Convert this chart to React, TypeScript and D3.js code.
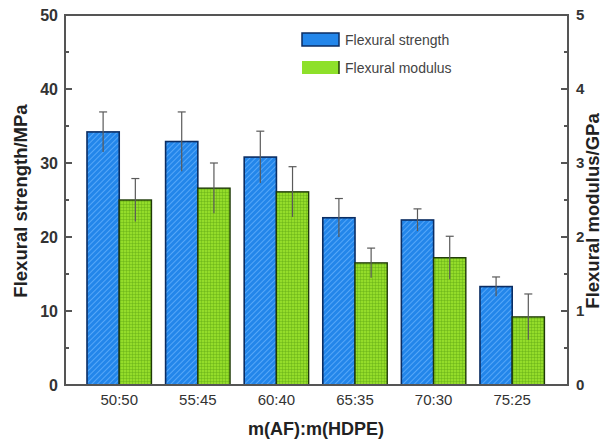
import * as d3 from "d3";

const categories = ["50:50", "55:45", "60:40", "65:35", "70:30", "75:25"];
const strength = [34.2, 32.9, 30.8, 22.6, 22.3, 13.3];
const strengthErr = [2.7, 4.0, 3.5, 2.6, 1.5, 1.3];
const modulus = [2.5, 2.66, 2.61, 1.65, 1.72, 0.92];
const modulusErr = [0.29, 0.34, 0.34, 0.2, 0.29, 0.31];
const leftTicks = [0, 10, 20, 30, 40, 50];
const rightTicks = [0, 1, 2, 3, 4, 5];

export default function App() {
  const width = 602;
  const height = 442;
  const left = 65;
  const right = 568;
  const top = 15;
  const bottom = 385;

  const x = d3.scaleLinear().domain([0.31, 6.71]).range([left, right]);
  const yL = d3.scaleLinear().domain([0, 50]).range([bottom, top]);
  const yR = d3.scaleLinear().domain([0, 5]).range([bottom, top]);
  const barW = x(0.41) - x(0);
  const axisColor = "#555";
  const font = "Liberation Sans, Arial, sans-serif";

  return (
    <svg
      width={width}
      height={height}
      viewBox={`0 0 ${width} ${height}`}
      style={{ position: "absolute", left: 0, top: 0, background: "#fff" }}
      fontFamily={font}
    >
      <defs>
        <pattern id="hatch" width="4" height="4" patternUnits="userSpaceOnUse" patternTransform="rotate(45)">
          <rect width="4" height="4" fill="#2386ea" />
          <line x1="0" y1="0" x2="0" y2="4" stroke="#6cb6ff" strokeWidth="1.4" />
        </pattern>
        <pattern id="dots" width="3" height="3" patternUnits="userSpaceOnUse">
          <rect width="3" height="3" fill="#94dc2a" />
          <path d="M0 0 H3 M0 0 V3" stroke="#5ea814" strokeWidth="0.8" />
        </pattern>
      </defs>

      {categories.map((c, i) => {
        const cx = x(i + 1);
        const sTop = yL(strength[i]);
        const mTop = yR(modulus[i]);
        return (
          <g key={c}>
            <rect x={cx - barW} y={sTop} width={barW} height={bottom - sTop} fill="url(#hatch)" stroke="#0b2d63" strokeWidth="1.6" />
            <rect x={cx} y={mTop} width={barW} height={bottom - mTop} fill="url(#dots)" stroke="#1f3a08" strokeWidth="1.4" />
            <line x1={cx - barW / 2} x2={cx - barW / 2} y1={yL(strength[i] - strengthErr[i])} y2={yL(strength[i] + strengthErr[i])} stroke="#5a5a5a" strokeWidth="1.2" />
            <line x1={cx - barW / 2 - 4} x2={cx - barW / 2 + 4} y1={yL(strength[i] + strengthErr[i])} y2={yL(strength[i] + strengthErr[i])} stroke="#5a5a5a" strokeWidth="1.2" />
            <line x1={cx + barW / 2} x2={cx + barW / 2} y1={yR(modulus[i] - modulusErr[i])} y2={yR(modulus[i] + modulusErr[i])} stroke="#5a5a5a" strokeWidth="1.2" />
            <line x1={cx + barW / 2 - 4} x2={cx + barW / 2 + 4} y1={yR(modulus[i] + modulusErr[i])} y2={yR(modulus[i] + modulusErr[i])} stroke="#5a5a5a" strokeWidth="1.2" />
            <text x={cx} y={bottom + 20} textAnchor="middle" fontSize="15" fill="#333">{c}</text>
          </g>
        );
      })}

      <rect x={left} y={top} width={right - left} height={bottom - top} fill="none" stroke={axisColor} strokeWidth="2" />

      {leftTicks.map((t) => (
        <g key={`l${t}`}>
          <line x1={left} x2={left + 7} y1={yL(t)} y2={yL(t)} stroke={axisColor} strokeWidth="2" />
          <text x={left - 7} y={yL(t) + 6} textAnchor="end" fontSize="16" fontWeight="bold" fill="#333">{t}</text>
        </g>
      ))}
      {leftTicks.slice(0, -1).map((t) => (
        <line key={`lm${t}`} x1={left} x2={left + 4} y1={yL(t + 5)} y2={yL(t + 5)} stroke={axisColor} strokeWidth="2" />
      ))}
      {rightTicks.map((t) => (
        <g key={`r${t}`}>
          <line x1={right - 7} x2={right} y1={yR(t)} y2={yR(t)} stroke={axisColor} strokeWidth="2" />
          <text x={right + 8} y={yR(t) + 5} textAnchor="start" fontSize="15" fontWeight="bold" fill="#333">{t}</text>
        </g>
      ))}
      {rightTicks.slice(0, -1).map((t) => (
        <line key={`rm${t}`} x1={right - 4} x2={right} y1={yR(t + 0.5)} y2={yR(t + 0.5)} stroke={axisColor} strokeWidth="2" />
      ))}

      <rect x="302" y="33" width="37" height="13" fill="#2386ea" stroke="#0b2d63" strokeWidth="1.5" />
      <text x="345" y="45" fontSize="14" fill="#444">Flexural strength</text>
      <rect x="302" y="61" width="37" height="13" fill="#8ee02a" />
      <line x1="339" x2="339" y1="61" y2="74" stroke="#1f3a08" strokeWidth="1.5" />
      <text x="345" y="73" fontSize="14" fill="#444">Flexural modulus</text>

      <text transform={`translate(27, 201) rotate(-90)`} textAnchor="middle" fontSize="18.5" fontWeight="bold" fill="#222">Flexural strength/MPa</text>
      <text transform={`translate(599, 211) rotate(-90)`} textAnchor="middle" fontSize="18.5" fontWeight="bold" fill="#222">Flexural modulus/GPa</text>
      <text x={316} y={435} textAnchor="middle" fontSize="18" fontWeight="bold" fill="#222">m(AF):m(HDPE)</text>
    </svg>
  );
}
